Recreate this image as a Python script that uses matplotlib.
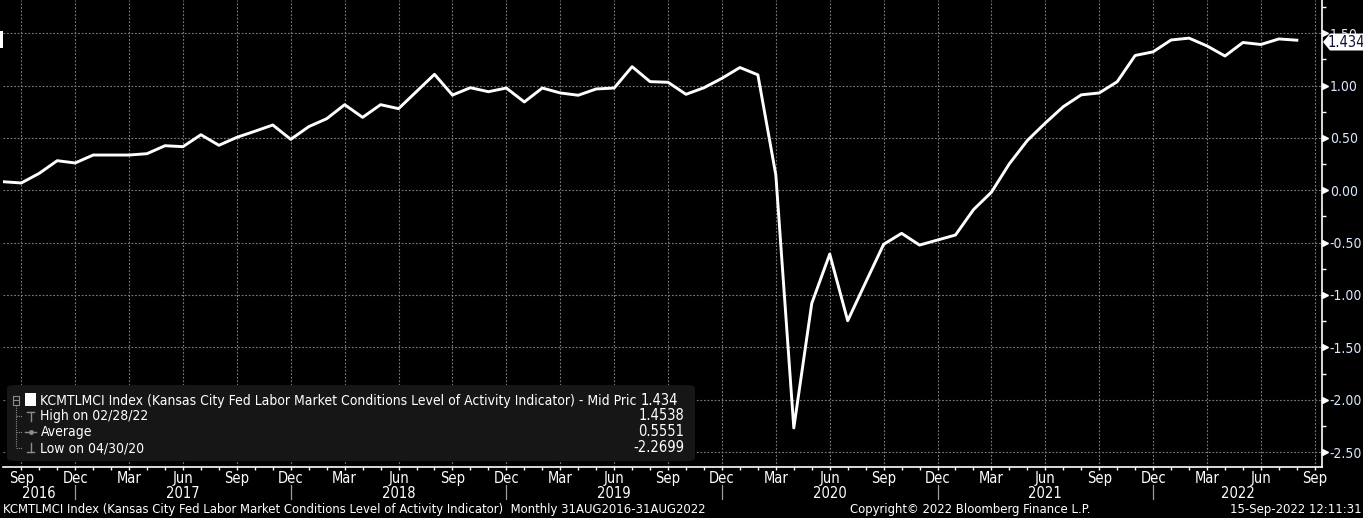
import matplotlib
matplotlib.use("Agg")
import matplotlib.pyplot as plt
from matplotlib import font_manager
from matplotlib.patches import FancyBboxPatch, Polygon, Rectangle
from matplotlib.lines import Line2D
import matplotlib.transforms as mtransforms

# ---------- 数据（月度，2016-08 ~ 2022-08） ----------
# 月份序号：0 = 2016年9月网格线，-1 = 2016年8月
month_idx = list(range(-1, 72))
lmci_values = [
    0.082, 0.070, 0.162, 0.283, 0.261, 0.337, 0.337, 0.337, 0.350, 0.426,
    0.417, 0.531, 0.430, 0.506, 0.564, 0.624, 0.487, 0.608, 0.684, 0.818,
    0.697, 0.818, 0.780, 0.944, 1.108, 0.910, 0.980, 0.942, 0.977, 0.844,
    0.977, 0.930, 0.908, 0.968, 0.977, 1.181, 1.038, 1.032, 0.917, 0.980,
    1.070, 1.173, 1.103, 0.146, -2.2699, -1.080, -0.609, -1.246, -0.879, -0.516,
    -0.411, -0.523, -0.475, -0.427, -0.185, -0.018, 0.254, 0.476, 0.643, 0.799,
    0.912, 0.930, 1.037, 1.288, 1.323, 1.436, 1.4538, 1.379, 1.283, 1.412,
    1.393, 1.446, 1.434,
]

quarter_pos = list(range(0, 73, 3))
quarter_labels = ["Sep", "Dec", "Mar", "Jun"] * 6 + ["Sep"]
year_sep_pos = [3, 15, 27, 39, 51, 63]
year_labels = ["2016", "2017", "2018", "2019", "2020", "2021", "2022"]

y_ticks = [1.5, 1.0, 0.5, 0.0, -0.5, -1.0, -1.5, -2.0, -2.5]

legend_rows = [
    ("KCMTLMCI Index (Kansas City Fed Labor Market Conditions Level of Activity Indicator) - Mid Pric", "1.434"),
    ("High on 02/28/22", "1.4538"),
    ("Average", "0.5551"),
    ("Low on 04/30/20", "-2.2699"),
]
last_value = "1.434"
footer_left = ("KCMTLMCI Index (Kansas City Fed Labor Market Conditions Level of Activity Indicator)"
               "  Monthly 31AUG2016-31AUG2022")
footer_mid = "Copyright\u00a9 2022 Bloomberg Finance L.P."
footer_right = "15-Sep-2022 12:11:31"

# ---------- 字体 ----------
installed = {f.name for f in font_manager.fontManager.ttflist}
if "Liberation Sans Narrow" in installed:
    FONT = dict(family="Liberation Sans Narrow")
else:
    FONT = dict(family="DejaVu Sans", stretch="condensed")

W, H = 1363, 518
BG = "#000000"
GRID = "#7a7a7a"
TICK_TXT = "#dbe8ff"


def fx(x):
    return x / W


def fy(y):
    return 1 - y / H


fig = plt.figure(figsize=(W / 100, H / 100), dpi=100, facecolor=BG)
ax_l, ax_r, ax_t, ax_b = 3.3, 1322.0, 0.0, 467.3
ax = fig.add_axes([fx(ax_l), fy(ax_b), (ax_r - ax_l) / W, (ax_b - ax_t) / H])
ax.set_facecolor(BG)

ax.plot(month_idx, lmci_values, color="white", lw=2.1, zorder=3)

ax.set_xlim(-1.0, 72.4)
ax.set_ylim(-2.646, 1.818)

# 网格
for q in quarter_pos:
    ax.axvline(q, color=GRID, lw=0.8, ls=(0, (1.6, 1.6)), zorder=1)
for yv in y_ticks:
    ax.axhline(yv, color=GRID, lw=0.8, ls=(0, (1.6, 1.6)), zorder=1)

for s in ["top", "left"]:
    ax.spines[s].set_visible(False)
ax.spines["right"].set_color("white")
ax.spines["right"].set_linewidth(1.2)
ax.spines["bottom"].set_color("white")
ax.spines["bottom"].set_linewidth(1.2)

# y 轴（右侧）
ax.yaxis.tick_right()
ax.set_yticks(y_ticks)
ax.set_yticklabels([f"{v:.2f}" for v in y_ticks], color=TICK_TXT, fontsize=10, **FONT)
ax.set_yticks([v + 0.25 for v in y_ticks[1:]] + [1.75], minor=True)
ax.tick_params(axis="y", which="major", length=0, pad=5.5)
ax.tick_params(axis="y", which="minor", length=3, width=1, color="white", direction="out")
tri_trans = mtransforms.offset_copy(ax.get_yaxis_transform(), fig=fig, x=2.5, y=0, units="dots")
ax.plot([1.0] * len(y_ticks), y_ticks, ls="none", marker=">", ms=5, color="white",
        transform=tri_trans, clip_on=False, zorder=5)

# x 轴
ax.set_xticks(quarter_pos)
ax.set_xticklabels(quarter_labels, color="white", fontsize=10.5, **FONT)
ax.set_xticks(month_idx[1:] + [72], minor=True)
ax.tick_params(axis="x", which="both", length=2.5, width=1, color="white", direction="out", pad=0)

xt = ax.get_xaxis_transform()
for p in year_sep_pos:
    ax.plot([p, p], [-0.038, -0.068], color="#9a9a9a", lw=0.9, transform=xt, clip_on=False)
bounds = [-1.0] + year_sep_pos + [72.4]
for i, lab in enumerate(year_labels):
    ax.text((bounds[i] + bounds[i + 1]) / 2, -0.0565, lab, transform=xt, ha="center",
            va="center", color="white", fontsize=10.5, **FONT)

# 图例框
box = FancyBboxPatch((fx(7), fy(461)), fx(695 - 7), (461 - 385) / H,
                     boxstyle="round,pad=0,rounding_size=0.006", transform=fig.transFigure,
                     facecolor="#161616", edgecolor="none", zorder=5)
fig.patches.append(box)
row_y = [400.5, 416, 432, 448]
for (lab, val), yy in zip(legend_rows, row_y):
    fig.text(fx(40.5), fy(yy), lab, color="white", fontsize=10, va="center", ha="left",
             zorder=6, **FONT)
    xr = 678 if val == last_value else 684
    fig.text(fx(xr), fy(yy), val, color="white", fontsize=10.5, va="center", ha="right",
             zorder=6, **FONT)

tree_c = "#8c8c8c"
fig.patches.append(Rectangle((fx(12.5), fy(404.5)), fx(6.5), 9 / H, transform=fig.transFigure,
                             facecolor="none", edgecolor=tree_c, lw=0.8, zorder=6))
fig.lines.append(Line2D([fx(14), fx(17.5)], [fy(400), fy(400)], transform=fig.transFigure,
                        color=tree_c, lw=0.8, zorder=6))
fig.lines.append(Line2D([fx(15.5), fx(15.5)], [fy(405), fy(447)], transform=fig.transFigure,
                        color=tree_c, lw=0.8, ls=(0, (1, 1)), zorder=6))
for yy in row_y[1:]:
    fig.lines.append(Line2D([fx(15.5), fx(22)], [fy(yy), fy(yy)], transform=fig.transFigure,
                            color=tree_c, lw=0.8, ls=(0, (1, 1)), zorder=6))
fig.patches.append(Rectangle((fx(25), fy(406)), fx(10.5), 13 / H, transform=fig.transFigure,
                             facecolor="white", edgecolor="none", zorder=6))
# 最高 / 平均 / 最低 符号
sym = [([30.5, 30.5], [412, 421]), ([27.5, 33.5], [412, 412]),
       ([25, 36], [432, 432]),
       ([30.5, 30.5], [443, 452]), ([27.5, 33.5], [452, 452])]
for xs, ys in sym:
    fig.lines.append(Line2D([fx(v) for v in xs], [fy(v) for v in ys], transform=fig.transFigure,
                            color=tree_c, lw=1.0, zorder=6))
fig.lines.append(Line2D([fx(30.5)], [fy(432)], transform=fig.transFigure, marker="o", ms=2.5,
                        color=tree_c, zorder=6))

# 最新值标签
tag = Polygon([(fx(1323), fy(42)), (fx(1330), fy(33.5)), (fx(1363), fy(33.5)),
               (fx(1363), fy(50.5)), (fx(1330), fy(50.5))], closed=True,
              transform=fig.transFigure, facecolor="white", edgecolor="none", zorder=10)
fig.patches.append(tag)
fig.text(fx(1346.5), fy(42.5), last_value, color="#101030", fontsize=10.5, ha="center",
         va="center", zorder=11, **FONT)

# 左上角小白块
fig.patches.append(Rectangle((0, fy(47.7)), fx(3), 16.7 / H, transform=fig.transFigure,
                             facecolor="white", edgecolor="none", zorder=10))

# 页脚
fig.text(fx(3), fy(509), footer_left, color="white", fontsize=9.4, ha="left", va="center", **FONT)
fig.text(fx(970), fy(509), footer_mid, color="white", fontsize=9.4, ha="center", va="center", **FONT)
fig.text(fx(1362), fy(509), footer_right, color="white", fontsize=9.4, ha="right", va="center", **FONT)

fig.savefig("out.png", dpi=100, facecolor=BG)
plt.close(fig)
